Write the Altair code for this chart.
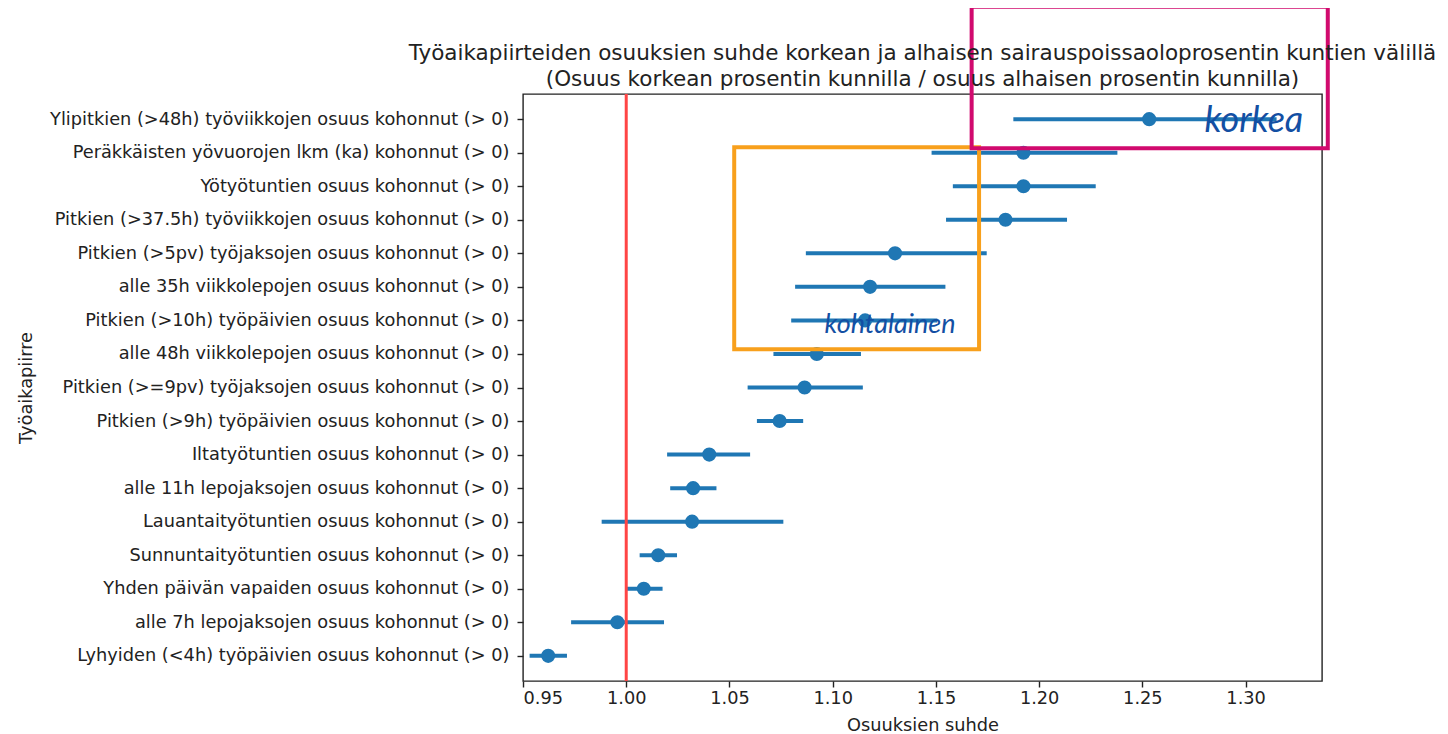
import altair as alt
import pandas as pd

categories = [
    "Ylipitkien (>48h) työviikkojen osuus kohonnut (> 0)",
    "Peräkkäisten yövuorojen lkm (ka) kohonnut (> 0)",
    "Yötyötuntien osuus kohonnut (> 0)",
    "Pitkien (>37.5h) työviikkojen osuus kohonnut (> 0)",
    "Pitkien (>5pv) työjaksojen osuus kohonnut (> 0)",
    "alle 35h viikkolepojen osuus kohonnut (> 0)",
    "Pitkien (>10h) työpäivien osuus kohonnut (> 0)",
    "alle 48h viikkolepojen osuus kohonnut (> 0)",
    "Pitkien (>=9pv) työjaksojen osuus kohonnut (> 0)",
    "Pitkien (>9h) työpäivien osuus kohonnut (> 0)",
    "Iltatyötuntien osuus kohonnut (> 0)",
    "alle 11h lepojaksojen osuus kohonnut (> 0)",
    "Lauantaityötuntien osuus kohonnut (> 0)",
    "Sunnuntaityötuntien osuus kohonnut (> 0)",
    "Yhden päivän vapaiden osuus kohonnut (> 0)",
    "alle 7h lepojaksojen osuus kohonnut (> 0)",
    "Lyhyiden (<4h) työpäivien osuus kohonnut (> 0)",
]
ratio = [1.2533, 1.1924, 1.1924, 1.1837, 1.1302, 1.1181, 1.1157, 1.0923,
         1.0864, 1.0743, 1.0402, 1.0324, 1.0319, 1.0155, 1.0085, 0.9957, 0.9622]
ci_low = [1.1875, 1.1479, 1.1582, 1.1549, 1.0870, 1.0818, 1.0799, 1.0713,
          1.0588, 1.0633, 1.0198, 1.0213, 0.9881, 1.0065, 0.9997, 0.9733, 0.9532]
ci_high = [1.3150, 1.2379, 1.2274, 1.2135, 1.1746, 1.1546, 1.1507, 1.1137,
           1.1146, 1.0857, 1.0600, 1.0437, 1.0761, 1.0246, 1.0176, 1.0183, 0.9713]
x_ticks = [0.95, 1.00, 1.05, 1.10, 1.15, 1.20, 1.25, 1.30]
reference_value = [1.0]

title_lines = [
    "Työaikapiirteiden osuuksien suhde korkean ja alhaisen sairauspoissaoloprosentin kuntien välillä",
    "(Osuus korkean prosentin kunnilla / osuus alhaisen prosentin kunnilla)",
]
box_labels = ["korkea", "kohtalainen"]
box_x1 = [1.1673, 1.0523]
box_x2 = [1.3398, 1.1709]
label_x = [1.3040, 1.1278]

df = pd.DataFrame({"cat": categories, "ratio": ratio, "lo": ci_low, "hi": ci_high})
ref_df = pd.DataFrame({"v": reference_value})

FONT = "DejaVu Sans"
TXT = "#222222"
BLUE = "#1f77b4"
LBL = 17.75

xscale = alt.Scale(domain=[0.95, 1.337], nice=False, zero=False)
xaxis = alt.Axis(values=x_ticks, format=".2f", title="Osuuksien suhde",
                 grid=False, domain=False, tickSize=6, tickWidth=1.4,
                 tickColor=TXT, labelFont=FONT, labelFontSize=LBL,
                 labelColor=TXT, labelPadding=2, titleFont=FONT,
                 titleFontSize=LBL, titleFontWeight="normal", titleColor=TXT,
                 titleBaseline="alphabetic", titleY=49, titleX=399.5,
                 titleAlign="center")
yscale = alt.Scale(type="point", padding=0.75, domain=categories)
yaxis = alt.Axis(title="Työaikapiirre", grid=False, domain=False, tickSize=6,
                 tickWidth=1.4, tickColor=TXT, labelFont=FONT,
                 labelFontSize=LBL, labelColor=TXT, labelPadding=8,
                 labelLimit=600, titleFont=FONT, titleFontSize=LBL,
                 titleFontWeight="normal", titleColor=TXT, titleAngle=270,
                 titleAlign="center", titleBaseline="alphabetic",
                 titleX=-492, titleY=293.5)


def X(field):
    return alt.X(f"{field}:Q", scale=xscale, axis=xaxis)


Y = alt.Y("cat:N", scale=yscale, axis=yaxis, sort=categories)

base = alt.Chart(df)
errbars = base.mark_rule(color=BLUE, strokeWidth=4).encode(
    x=X("lo"), x2="hi", y=Y)
points = base.mark_circle(color=BLUE, size=200, opacity=1).encode(
    x=X("ratio"), y=Y)
refline = alt.Chart(ref_df).mark_rule(color="#ff4545", strokeWidth=3).encode(
    x=X("v"))

box_df_o = pd.DataFrame({"x1": [box_x1[1]], "x2": [box_x2[1]]})
box_df_m = pd.DataFrame({"x1": [box_x1[0]], "x2": [box_x2[0]]})
orange_box = alt.Chart(box_df_o).mark_rect(
    fillOpacity=0, stroke="#f8a01c", strokeWidth=4).encode(
    x=X("x1"), x2="x2", y=alt.value(53.3), y2=alt.value(255.3))
magenta_box = alt.Chart(box_df_m).mark_rect(
    fillOpacity=0, stroke="#d10a6e", strokeWidth=4).encode(
    x=X("x1"), x2="x2", y=alt.value(-87.3), y2=alt.value(54.3))

t1 = alt.Chart(pd.DataFrame({"x": [label_x[0]], "t": [box_labels[0]]})).mark_text(
    font="Lato", fontStyle="italic", fontSize=36, color="#134fa3",
    align="center", baseline="alphabetic").encode(
    x=X("x"), y=alt.value(38), text="t:N")
t2 = alt.Chart(pd.DataFrame({"x": [label_x[1]], "t": [box_labels[1]]})).mark_text(
    font="Lato", fontStyle="italic", fontSize=27, color="#134fa3",
    align="center", baseline="alphabetic").encode(
    x=X("x"), y=alt.value(239), text="t:N")

chart = alt.layer(errbars, points, refline, orange_box, magenta_box, t1, t2).properties(
    width=799, height=587,
    padding={"left": 515, "top": 86, "right": 118, "bottom": 56},
    autosize=alt.AutoSizeParams(type="none"),
    title=alt.TitleParams(text=title_lines, font=FONT, fontSize=21.5,
                          fontWeight="normal", color=TXT, anchor="middle",
                          frame="group", baseline="alphabetic",
                          lineHeight=26, offset=0, dy=102.6),
).configure(background="white").configure_view(stroke=TXT, strokeWidth=1.4)

chart.save("out.html", embed_options={"renderer": "svg", "actions": False})
